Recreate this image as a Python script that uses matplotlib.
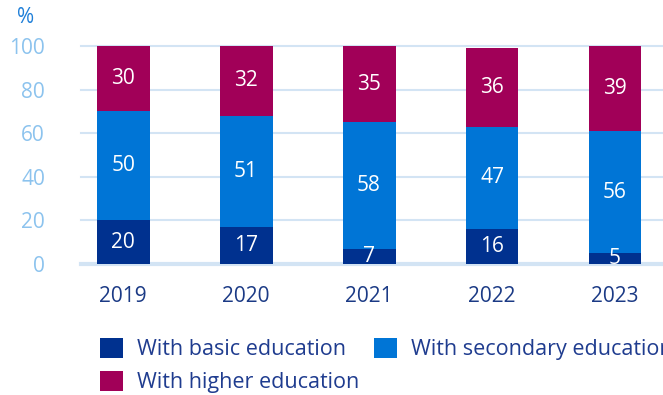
import matplotlib
matplotlib.use("Agg")
import matplotlib.pyplot as plt
import numpy as np

years = ["2019", "2020", "2021", "2022", "2023"]
basic = [20, 17, 7, 16, 5]
secondary = [50, 51, 58, 47, 56]
higher = [30, 32, 35, 36, 39]
series_names = ["With basic education", "With secondary education", "With higher education"]
yticks = [0, 20, 40, 60, 80, 100]

colors = ["#00318F", "#0075D6", "#A10058"]

plt.rcParams['font.family'] = ['Open Sans', 'DejaVu Sans']

fig = plt.figure(figsize=(6.63, 3.95), dpi=100)
ax = fig.add_axes([0.1222, 0.3316, 0.8778, 0.5519])

x = np.arange(len(years))
width = 0.43
bottoms = np.zeros(len(years))
handles = []
for vals, col, name in zip([basic, secondary, higher], colors, series_names):
    bars = ax.bar(x, vals, width, bottom=bottoms, color=col, label=name, zorder=3)
    handles.append(bars)
    for xi, b, v in zip(x, bottoms, vals):
        ax.text(xi, b + v / 2, str(v), ha='center', va='center', color='white',
                fontsize=15, zorder=4)
    bottoms = bottoms + np.array(vals)

ax.set_xlim(-0.342, 4.39)
ax.set_ylim(0, 100)
ax.set_yticks(yticks)
ax.set_yticklabels([str(t) for t in yticks])
ax.set_xticks(x)
ax.set_xticklabels(years)
for t in yticks:
    ax.axhline(t, color='#D3E4F4', lw=3 if t == 0 else 1.5, zorder=1, clip_on=False)
for s in ax.spines.values():
    s.set_visible(False)
ax.tick_params(axis='y', length=0, pad=26, labelsize=15, labelcolor='#8CC3EE')
ax.tick_params(axis='x', length=0, pad=16, labelsize=15, labelcolor='#1B3A85')

fig.text(0.026, 0.955, "%", fontsize=15, color='#1F7FD8', ha='left', va='center')

leg = fig.legend([handles[0], handles[2], handles[1]],
                 [series_names[0], series_names[2], series_names[1]],
                 ncol=2, loc='upper left', bbox_to_anchor=(0.151, 0.145),
                 bbox_transform=fig.transFigure,
                 frameon=False, fontsize=15.5, handlelength=1.05, handleheight=1.05,
                 handletextpad=0.65, columnspacing=0.72, labelspacing=0.5,
                 borderaxespad=0, borderpad=0)
for t in leg.get_texts():
    t.set_color('#1F3C8F')

fig.savefig("out.png", dpi=100)
